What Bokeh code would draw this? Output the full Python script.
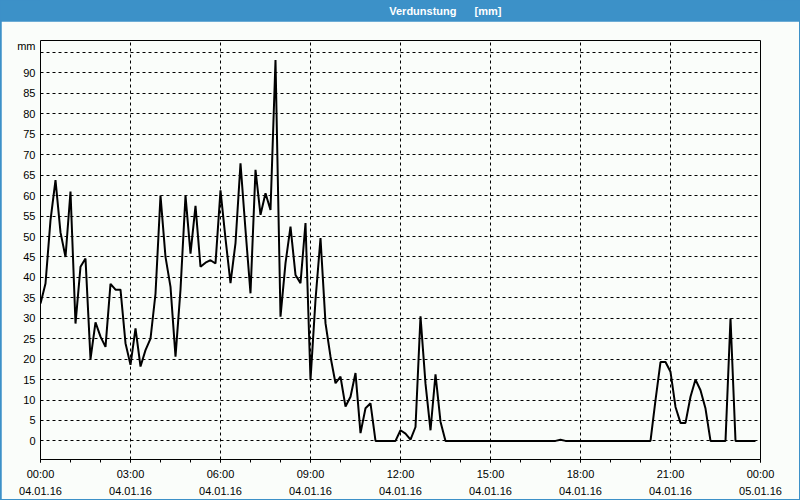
from bokeh.plotting import figure
from bokeh.models import FixedTicker, Label, ColumnDataSource
from bokeh.layouts import column
from bokeh.embed import file_html
from bokeh.resources import INLINE

# ---- data (10-minute values, 04.01.16 00:00 .. 23:50) ----
values = [
    33.6, 38.5, 54.0, 63.8, 51.0, 45.0, 61.0, 28.7, 42.6, 44.6,
    20.0, 29.0, 25.5, 23.0, 38.4, 37.0, 37.0, 23.9, 18.6, 27.5,
    18.2, 22.2, 25.0, 36.0, 60.0, 45.0, 37.7, 20.6, 37.0, 60.0,
    45.8, 57.5, 42.6, 43.6, 44.2, 43.4, 61.3, 49.5, 38.6, 48.4,
    67.9, 51.6, 36.1, 66.3, 55.3, 60.6, 56.5, 93.2, 30.4, 43.5,
    52.4, 40.6, 38.6, 53.3, 14.9, 34.5, 49.6, 28.8, 20.6, 14.1,
    15.7, 8.4, 10.8, 16.6, 1.9, 8.0, 9.2, 0.0, 0.0, 0.0,
    0.0, 0.0, 2.6, 1.8, 0.3, 3.4, 30.5, 14.0, 2.6, 16.3,
    4.7, 0.0, 0.0, 0.0, 0.0, 0.0, 0.0, 0.0, 0.0, 0.0,
    0.0, 0.0, 0.0, 0.0, 0.0, 0.0, 0.0, 0.0, 0.0, 0.0,
    0.0, 0.0, 0.0, 0.0, 0.3, 0.0, 0.0, 0.0, 0.0, 0.0,
    0.0, 0.0, 0.0, 0.0, 0.0, 0.0, 0.0, 0.0, 0.0, 0.0,
    0.0, 0.0, 0.0, 10.0, 19.3, 19.3, 16.9, 8.3, 4.4, 4.4,
    10.8, 15.0, 12.4, 7.9, 0.0, 0.0, 0.0, 0.0, 30.0, 0.0,
    0.0, 0.0, 0.0, 0.0,
]
hours = [i / 6.0 for i in range(len(values))]

x_ticks = [0, 3, 6, 9, 12, 15, 18, 21, 24]
x_labels = ["00:00\n04.01.16", "03:00\n04.01.16", "06:00\n04.01.16",
            "09:00\n04.01.16", "12:00\n04.01.16", "15:00\n04.01.16",
            "18:00\n04.01.16", "21:00\n04.01.16", "00:00\n05.01.16"]
y_ticks = list(range(0, 100, 5))
y_unit = "mm"
y_unit_pos = 96.6
title_name = "Verdunstung"
title_unit = "[mm]"

BLUE = "#3C91C8"
BG = "#FAFDFA"
FONT = "Liberation Sans"

# ---- title bar ----
tb = figure(width=800, height=21, x_range=(0, 800), y_range=(0, 21),
            toolbar_location=None, output_backend="svg", min_border=0,
            background_fill_color=BLUE, border_fill_color=BLUE,
            outline_line_color=None)
tb.axis.visible = False
tb.grid.visible = False
tb.add_layout(Label(x=417, y=10.5, x_units="screen", y_units="screen",
                    text=title_name, text_color="white", text_font=FONT,
                    text_font_size="11px", text_font_style="bold",
                    text_align="right", text_baseline="middle"))
tb.add_layout(Label(x=435, y=10.5, x_units="screen", y_units="screen",
                    text=title_unit, text_color="white", text_font=FONT,
                    text_font_size="11px", text_font_style="bold",
                    text_align="left", text_baseline="middle"))

# ---- main chart ----
p = figure(width=798, height=478, x_range=(0, 24), y_range=(-4.55, 97.95),
           toolbar_location=None, output_backend="svg",
           min_border_left=39, min_border_right=39,
           min_border_top=19, min_border_bottom=39,
           background_fill_color=BG, border_fill_color=BG,
           outline_line_color="black", outline_line_width=1,
           margin=(0, 1, 1, 1))

src = ColumnDataSource(dict(x=hours, y=values))
p.line("x", "y", source=src, line_color="black", line_width=2)

# x axis
xa = p.xaxis[0]
xa.ticker = FixedTicker(ticks=x_ticks, minor_ticks=list(range(25)))
xa.major_label_overrides = {t: l for t, l in zip(x_ticks, x_labels)}
xa.axis_line_color = None
xa.major_tick_in = 0
xa.major_tick_out = 3
xa.minor_tick_in = 0
xa.minor_tick_out = 3
xa.major_tick_line_color = "black"
xa.minor_tick_line_color = "black"
xa.major_label_standoff = 5
xa.major_label_text_font = FONT
xa.major_label_text_font_size = "11px"
xa.major_label_text_color = "black"
xa.major_label_text_line_height = 1.45

# y axis (tick labels 0..90 plus the unit label above)
ya = p.yaxis[0]
ya.ticker = FixedTicker(ticks=y_ticks[:-1] + [y_unit_pos])
ya.major_label_overrides = {y_unit_pos: y_unit}
ya.axis_line_color = None
ya.major_tick_in = 0
ya.major_tick_out = 0
ya.minor_tick_line_color = None
ya.major_label_standoff = 5
ya.major_label_text_font = FONT
ya.major_label_text_font_size = "11px"
ya.major_label_text_color = "black"

# grids
p.xgrid.ticker = FixedTicker(ticks=x_ticks[1:-1])
p.ygrid.ticker = FixedTicker(ticks=y_ticks)
for g in (p.xgrid[0], p.ygrid[0]):
    g.grid_line_color = "black"
    g.grid_line_dash = "3 3"
    g.grid_line_width = 1
    g.grid_line_alpha = 1.0

layout = column(tb, p, spacing=0, styles={"background-color": BLUE})

open("out.html", "w").write(file_html(layout, INLINE))
